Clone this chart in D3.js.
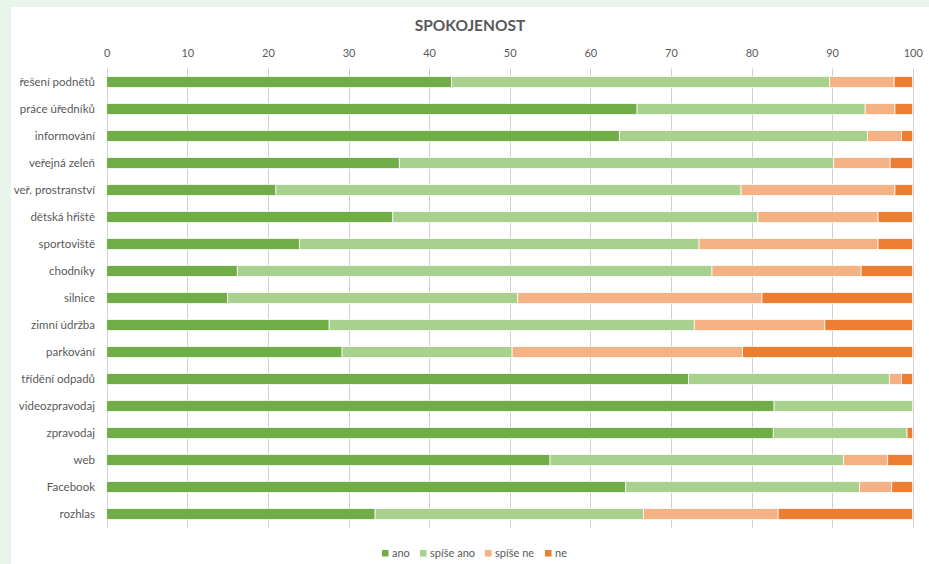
<!DOCTYPE html>
<html>
  <head>
    <meta charset="utf-8">
    <title>Spokojenost</title>
    <script src="https://cdn.jsdelivr.net/npm/d3@7"></script>
    <style>
      html, body { margin: 0; padding: 0; background: #e9f4eb; }
      svg { display: block; }
      text { font-family: Lato, "Liberation Sans", sans-serif; fill: #595959; }
    </style>
  </head>
  <body>

  <div id="chart"></div>

  <script>

  var width = 929, height = 564;

  var categories = ["řešení podnětů","práce úředníků","informování","veřejná zeleň","veř. prostranství","dětská hřiště","sportoviště","chodníky","silnice","zimní údržba","parkování","třídění odpadů","videozpravodaj","zpravodaj","web","Facebook","rozhlas"];
  var series = ["ano","spíše ano","spíše ne","ne"];
  var colors = ["#70ad47","#a9d18e","#f4b183","#ed7d31"];

  var ano      = [42.8, 65.8, 63.6, 36.3, 21.0, 35.5, 23.9, 16.2, 15.0, 27.6, 29.2, 72.2, 82.8, 82.7, 55.0, 64.4, 33.3];
  var spiseAno = [46.9, 28.3, 30.8, 53.9, 57.7, 45.3, 49.6, 58.9, 36.0, 45.3, 21.1, 24.9, 17.2, 16.6, 36.4, 29.0, 33.3];
  var spiseNe  = [ 8.0,  3.7,  4.2,  7.0, 19.1, 14.9, 22.2, 18.5, 30.3, 16.2, 28.6,  1.5,  0.0,  0.0,  5.5,  4.0, 16.7];
  var ne       = [ 2.3,  2.2,  1.4,  2.8,  2.2,  4.3,  4.3,  6.4, 18.7, 10.9, 21.1,  1.4,  0.0,  0.7,  3.1,  2.6, 16.7];
  var ticks = [0,10,20,30,40,50,60,70,80,90,100];

  var rows = categories.map(function(c_, i_){
      return { cat: c_, "ano": ano[i_], "spíše ano": spiseAno[i_], "spíše ne": spiseNe[i_], "ne": ne[i_] };
  });

  var stack = d3.stack().keys(series)(rows);

  var margin = { left: 106.7, right: 929 - 912.7, top: 68.5, bottom: 564 - 527.5 };

  var x = d3.scaleLinear().domain([0, 100]).range([margin.left, width - margin.right]);
  var y = d3.scaleBand().domain(categories).range([margin.top, height - margin.bottom]).paddingInner(0.59).paddingOuter(0.295);
  var color = d3.scaleOrdinal().domain(series).range(colors);

  var svg = d3.select("#chart").append("svg")
      .attr("width", width)
      .attr("height", height);

  // white chart area
  svg.append("rect")
      .attr("x", 11).attr("y", 7)
      .attr("width", width - 11).attr("height", height - 7)
      .attr("fill", "#ffffff");

  svg.append("text")
      .attr("x", 470)
      .attr("y", 31)
      .attr("text-anchor", "middle")
      .attr("font-size", "15.5px")
      .attr("font-weight", "bold")
      .text("SPOKOJENOST");

  // gridlines
  svg.append("g")
      .selectAll("line")
      .data(ticks)
      .enter()
      .append("line")
      .attr("x1", function(d_){ return Math.round(x(d_)) + 0.5; })
      .attr("x2", function(d_){ return Math.round(x(d_)) + 0.5; })
      .attr("y1", margin.top)
      .attr("y2", height - margin.bottom)
      .attr("stroke", "#d0d0d0")
      .attr("stroke-width", 1);

  // top axis labels
  var xAxis = svg.append("g")
      .attr("transform", "translate(0," + 57 + ")")
      .call(d3.axisTop(x).tickValues(ticks).tickSize(0).tickPadding(0));
  xAxis.select(".domain").remove();
  xAxis.selectAll("text")
      .attr("font-size", "11px")
      .attr("font-family", "Lato, sans-serif")
      .attr("fill", "#595959");

  // category labels
  var yAxis = svg.append("g")
      .attr("transform", "translate(" + 95 + ",0)")
      .call(d3.axisLeft(y).tickSize(0).tickPadding(0));
  yAxis.select(".domain").remove();
  yAxis.selectAll("text")
      .attr("font-size", "11.5px")
      .attr("font-family", "Lato, sans-serif")
      .attr("fill", "#595959");

  // bars
  svg.append("g")
      .selectAll("g")
      .data(stack)
      .enter()
      .append("g")
      .attr("fill", function(d_){ return color(d_.key); })
      .selectAll("rect")
      .data(function(d_){ return d_; })
      .enter()
      .append("rect")
      .attr("x", function(d_){ return x(d_[0]); })
      .attr("y", function(d_){ return y(d_.data.cat); })
      .attr("width", function(d_){ return Math.max(0, x(d_[1]) - x(d_[0])); })
      .attr("height", y.bandwidth())
      .attr("stroke", "#ffffff")
      .attr("stroke-width", function(d_){ return (d_[1] - d_[0]) > 0 ? 0.75 : 0; });

  // legend
  var legendX = [382, 420, 485, 545];
  var legend = svg.append("g")
      .selectAll("g")
      .data(series)
      .enter()
      .append("g")
      .attr("transform", function(d_, i_){ return "translate(" + legendX[i_] + "," + 550 + ")"; });

  legend.append("rect")
      .attr("width", 6.5)
      .attr("height", 6.5)
      .attr("fill", function(d_){ return color(d_); });

  legend.append("text")
      .attr("x", 10)
      .attr("y", 7)
      .attr("font-size", "11px")
      .text(function(d_){ return d_; });

  </script>

  </body>
</html>
